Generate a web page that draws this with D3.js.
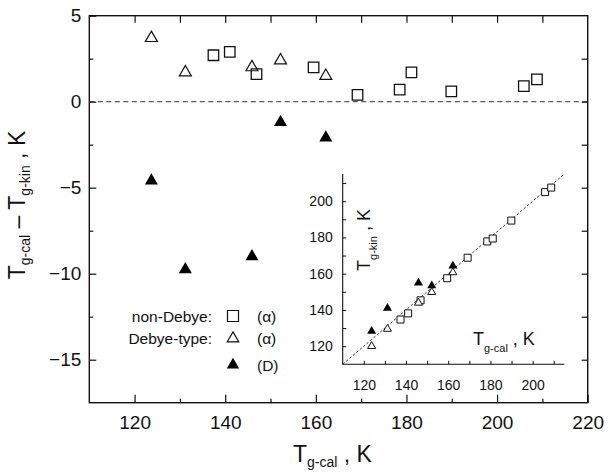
<!DOCTYPE html>
<html>
<head>
<meta charset="utf-8">
<script src="https://cdn.jsdelivr.net/npm/d3@7"></script>
<style>
  body { margin: 0; background: #fff; }
  svg { font-family: "Liberation Sans", Arial, sans-serif; }
</style>
</head>
<body>
<svg id="main" width="611" height="473"></svg>
<script>
// non-Debye (alpha) : open squares
var sqCal  = [137.4, 141.0, 146.9, 159.5, 169.2, 178.5, 181.1, 189.9, 205.9, 208.8]
var sqDiff = [2.7, 2.9, 1.6, 2.0, 0.4, 0.7, 1.7, 0.6, 0.9, 1.3]
// Debye-type (alpha) : open triangles
var triCal  = [123.7, 131.2, 145.9, 152.2, 162.2]
var triDiff = [3.7, 1.7, 2.0, 2.4, 1.5]
// Debye-type (D) : filled triangles
var dCal  = [123.7, 131.2, 145.9, 152.2, 162.2]
var dDiff = [-4.6, -9.75, -9.0, -1.2, -2.1]

var xTicks = [120, 140, 160, 180, 200, 220]
var yTicks = [-15, -10, -5, 0, 5]
var inTicks = [120, 140, 160, 180, 200]

var svg = d3.select('#main')
var L = 89.3, R = 587.7, T = 15.7, B = 402.7
var x = d3.scaleLinear().domain([110, 220]).range([L, R])
var y = d3.scaleLinear().domain([-17.5, 5]).range([B, T])

function pts(cal, diff) {
    return cal.map(function(c, i) { return { c: c, d: diff[i], k: c - diff[i] } })
}
var squares = pts(sqCal, sqDiff), opens = pts(triCal, triDiff), fills = pts(dCal, dDiff)

function tri(side) { return d3.symbol().type(d3.symbolTriangle).size(Math.sqrt(3) / 4 * side * side)() }
function sq(side) { return d3.symbol().type(d3.symbolSquare).size(side * side)() }

function styleAxis(g) {
    g.select('.domain').remove()
    g.selectAll('line').attr('stroke', '#111').attr('stroke-width', 1.2)
    g.selectAll('text').attr('fill', '#111')
}

// main axes
svg.append('g').attr('transform', 'translate(0,' + B + ')')
    .call(d3.axisBottom(x).tickValues(xTicks).tickSize(-8).tickPadding(12.5).tickFormat(d3.format('d')))
    .call(styleAxis).style('font-size', '19px')
svg.append('g').attr('transform', 'translate(0,' + B + ')')
    .call(d3.axisBottom(x).tickValues(d3.range(130, 220, 20)).tickSize(-4).tickFormat(''))
    .call(styleAxis)
svg.append('g').attr('transform', 'translate(' + L + ',0)')
    .call(d3.axisLeft(y).tickValues(yTicks).tickSize(-7).tickPadding(8).tickFormat(d3.format('d')))
    .call(styleAxis).style('font-size', '19px')
svg.append('g').attr('transform', 'translate(' + L + ',0)')
    .call(d3.axisLeft(y).tickValues([-12.5, -7.5, -2.5, 2.5]).tickSize(-4).tickFormat(''))
    .call(styleAxis)
svg.append('g').attr('transform', 'translate(0,' + T + ')')
    .call(d3.axisTop(x).tickValues(d3.range(120, 220, 10)).tickSize(-7).tickFormat(''))
    .call(styleAxis)
svg.append('g').attr('transform', 'translate(' + R + ',0)')
    .call(d3.axisRight(y).tickValues(d3.range(-15, 5, 2.5)).tickSize(-6).tickFormat(''))
    .call(styleAxis)

svg.append('rect').attr('x', L).attr('y', T).attr('width', R - L).attr('height', B - T)
    .attr('fill', 'none').attr('stroke', '#111').attr('stroke-width', 1.4)

// zero line
svg.append('line').attr('x1', L).attr('x2', R).attr('y1', y(0)).attr('y2', y(0))
    .attr('stroke', '#333').attr('stroke-width', 1).attr('stroke-dasharray', '5,3.5')

// main markers
var mk = svg.append('g')
mk.selectAll('.sq').data(squares).enter().append('path')
    .attr('d', sq(10.5))
    .attr('transform', function(d) { return 'translate(' + x(d.c) + ',' + y(d.d) + ')' })
    .attr('fill', 'none').attr('stroke', '#111').attr('stroke-width', 1.3)
mk.selectAll('.ot').data(opens).enter().append('path')
    .attr('d', tri(12))
    .attr('transform', function(d) { return 'translate(' + x(d.c) + ',' + y(d.d) + ')' })
    .attr('fill', 'none').attr('stroke', '#111').attr('stroke-width', 1.2)
mk.selectAll('.ft').data(fills).enter().append('path')
    .attr('d', tri(13))
    .attr('transform', function(d) { return 'translate(' + x(d.c) + ',' + y(d.d) + ')' })
    .attr('fill', '#000')

// axis titles
var xl = svg.append('text').attr('x', 293).attr('y', 461.5).attr('fill', '#111').style('font-size', '23px')
xl.append('tspan').text('T')
xl.append('tspan').attr('dy', 5).style('font-size', '14px').text('g-cal')
xl.append('tspan').attr('dy', -5).text(' , K')

var yl = svg.append('text').attr('transform', 'translate(25,205) rotate(-90)')
    .attr('text-anchor', 'middle').attr('fill', '#111').style('font-size', '23px')
yl.append('tspan').text('T')
yl.append('tspan').attr('dy', 5).style('font-size', '14px').text('g-cal')
yl.append('tspan').attr('dy', -5).text('  \u2013  T')
yl.append('tspan').attr('dy', 5).style('font-size', '14px').text('g-kin')
yl.append('tspan').attr('dy', -5).text(' , K')

// legend
var leg = svg.append('g').style('font-size', '15.5px').attr('fill', '#111')
var legRows = [
    { label: 'non-Debye:', tag: '(\u03b1)', sym: sq(11), fill: 'none', y: 316 },
    { label: 'Debye-type:', tag: '(\u03b1)', sym: tri(11.5), fill: 'none', y: 338.5 },
    { label: '', tag: '(D)', sym: tri(12.5), fill: '#000', y: 365 }
]
legRows.forEach(function(r) {
    leg.append('text').attr('x', 212).attr('y', r.y + 5.5).attr('text-anchor', 'end').text(r.label)
    leg.append('path').attr('d', r.sym).attr('transform', 'translate(233,' + r.y + ')')
        .attr('fill', r.fill).attr('stroke', r.fill === 'none' ? '#111' : 'none').attr('stroke-width', 1.2)
    leg.append('text').attr('x', 257).attr('y', r.y + 5.5).text(r.tag)
})

// inset
var iL = 342.7, iR = 564.3, iT = 174, iB = 364.3
var xi = d3.scaleLinear().domain([110, 215]).range([iL, iR])
var yi = d3.scaleLinear().domain([110, 215]).range([iB, iT])
var ins = svg.append('g')

ins.append('g').attr('transform', 'translate(0,' + iB + ')')
    .call(d3.axisBottom(xi).tickValues(inTicks).tickSize(-3.5).tickPadding(15.5).tickFormat(d3.format('d')))
    .call(styleAxis).style('font-size', '14px')
ins.append('g').attr('transform', 'translate(0,' + iB + ')')
    .call(d3.axisBottom(xi).tickValues(d3.range(130, 215, 20)).tickSize(-3.5).tickFormat(''))
    .call(styleAxis)
ins.append('g').attr('transform', 'translate(' + iL + ',0)')
    .call(d3.axisLeft(yi).tickValues(inTicks).tickSize(-3.5).tickPadding(10).tickFormat(d3.format('d')))
    .call(styleAxis).style('font-size', '14px')
ins.append('g').attr('transform', 'translate(' + iL + ',0)')
    .call(d3.axisLeft(yi).tickValues(d3.range(130, 215, 20)).tickSize(-3.5).tickFormat(''))
    .call(styleAxis)
ins.selectAll('line').attr('stroke-width', 1)

ins.append('path').attr('d', 'M' + iL + ',' + iT + 'V' + iB + 'H' + iR)
    .attr('fill', 'none').attr('stroke', '#111').attr('stroke-width', 1.1)
ins.append('line').attr('x1', xi(110)).attr('y1', yi(110)).attr('x2', xi(215)).attr('y2', yi(215))
    .attr('stroke', '#333').attr('stroke-width', 1).attr('stroke-dasharray', '2.5,2')

ins.selectAll('.isq').data(squares).enter().append('path')
    .attr('d', sq(7))
    .attr('transform', function(d) { return 'translate(' + xi(d.c) + ',' + yi(d.k) + ')' })
    .attr('fill', '#fff').attr('stroke', '#111').attr('stroke-width', 1)
ins.selectAll('.iot').data(opens).enter().append('path')
    .attr('d', tri(8))
    .attr('transform', function(d) { return 'translate(' + xi(d.c) + ',' + yi(d.k) + ')' })
    .attr('fill', '#fff').attr('stroke', '#111').attr('stroke-width', 1)
ins.selectAll('.ift').data(fills).enter().append('path')
    .attr('d', tri(9))
    .attr('transform', function(d) { return 'translate(' + xi(d.c) + ',' + yi(d.k) + ')' })
    .attr('fill', '#000')

var ixl = ins.append('text').attr('x', 473).attr('y', 345).attr('fill', '#111').style('font-size', '18px')
ixl.append('tspan').text('T')
ixl.append('tspan').attr('dy', 7).style('font-size', '11px').text('g-cal')
ixl.append('tspan').attr('dy', -7).text(' , K')

var iyl = ins.append('text').attr('transform', 'translate(370,240) rotate(-90)')
    .attr('text-anchor', 'middle').attr('fill', '#111').style('font-size', '18px')
iyl.append('tspan').text('T')
iyl.append('tspan').attr('dy', 7).style('font-size', '11px').text('g-kin')
iyl.append('tspan').attr('dy', -7).text(' , K')
</script>
</body>
</html>
